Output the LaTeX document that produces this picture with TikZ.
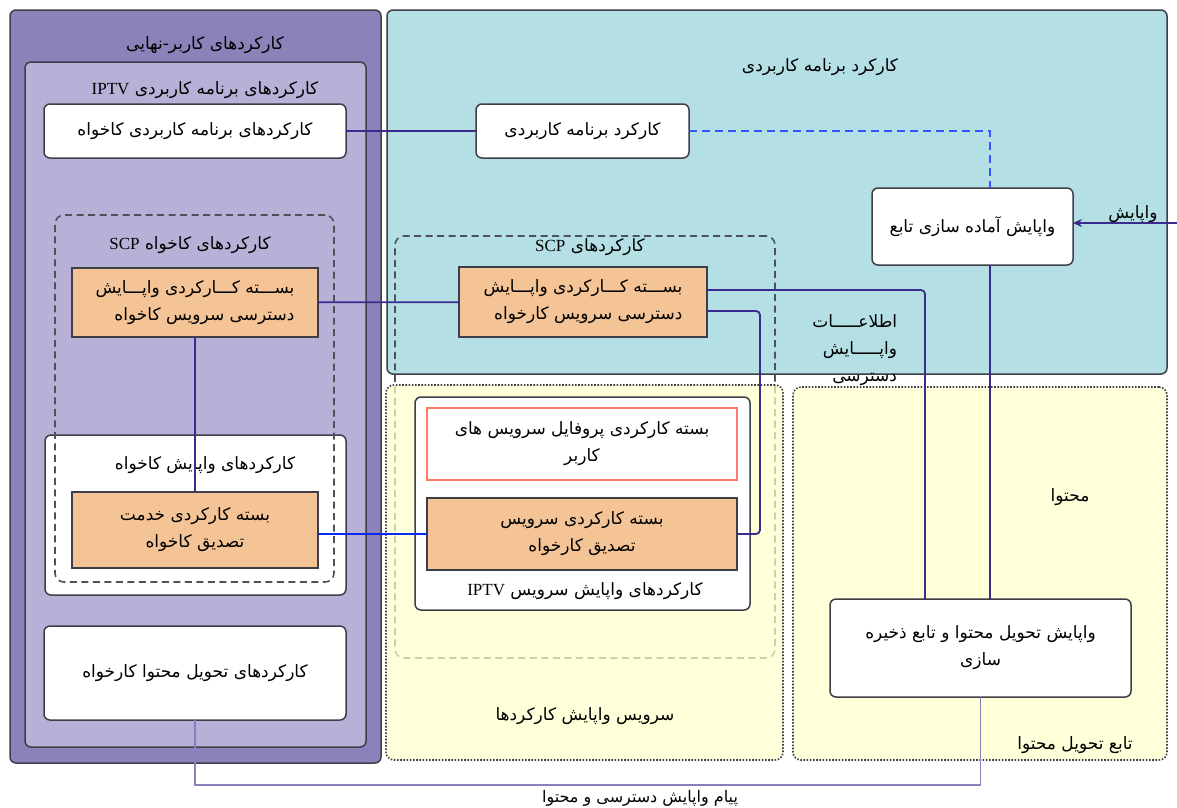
\documentclass[tikz,border=0pt]{standalone}
\usepackage{fontspec}
\setmainfont{Liberation Serif}
\newfontfamily\arabicfont[Script=Arabic]{DejaVu Sans}
\TeXXeTstate=1
\usetikzlibrary{arrows.meta,calc}
\newcommand\fa[1]{{\arabicfont\beginR #1\endR}}

\definecolor{euPurple}{HTML}{8C81B8}
\definecolor{appLav}{HTML}{B9B0D8}
\definecolor{cyanBg}{HTML}{B3DFE5}
\definecolor{yelBg}{HTML}{FFFFCC}
\definecolor{peach}{HTML}{F4C496}
\definecolor{linkPurple}{HTML}{3A2C8E}
\definecolor{linkBlue}{HTML}{0A2BF5}
\definecolor{dashBlue}{HTML}{3355FF}
\definecolor{edge}{HTML}{3E3E48}
\definecolor{scpGray}{HTML}{505058}
\definecolor{msgPurple}{HTML}{8A80BC}
\definecolor{profRed}{HTML}{FF7B6E}

\tikzset{
  every node/.style={font=\fontsize{17}{27}\selectfont, outer sep=0pt},
  frame/.style={draw=edge, line width=1.5pt, rounded corners=6pt, anchor=north west, inner sep=0pt},
  wbox/.style={draw=edge, fill=white, line width=1.5pt, rounded corners=6pt, anchor=north west, align=center, inner sep=2pt},
  obox/.style={draw=edge, fill=peach, line width=1.5pt, anchor=north west, inner sep=2pt},
  scpbox/.style={draw=scpGray, dash pattern=on 7pt off 4.5pt, line width=1.6pt, rounded corners=9pt, anchor=north west, inner sep=0pt},
  ybox/.style={draw=edge, dash pattern=on 1.6pt off 1.6pt, line width=1.6pt, fill=yelBg, fill opacity=0.72, rounded corners=8pt, anchor=north west, inner sep=0pt},
  lbl/.style={inner sep=0pt},
  link/.style={draw=linkPurple, line width=1.8pt},
  bluelink/.style={draw=linkBlue, line width=2pt},
  dashlink/.style={draw=dashBlue, line width=1.8pt, dash pattern=on 8pt off 5pt},
  msg/.style={draw=msgPurple, line width=1.5pt},
}

\begin{document}
\begin{tikzpicture}[x=1pt, y=-1pt]
\useasboundingbox (0,0) rectangle (1177,807);

% application function area
\node[frame, fill=cyanBg, minimum width=780, minimum height=364] (cy) at (387,10) {};
\node[lbl] (cyT) at (820,67) {\fa{کارکرد برنامه کاربردی}};

% end-user functions
\node[frame, fill=euPurple, minimum width=371, minimum height=753] (eu) at (10,10) {};
\node[lbl] (euT) at (205,45) {\fa{کارکردهای کاربر-نهایی}};
\node[frame, fill=appLav, minimum width=341, minimum height=685] (app) at (25,62) {};
\node[lbl] (appT) at (205,90) {\fa{کارکردهای برنامه کاربردی {\rmfamily IPTV}}};

% SCP functions of the network side (partly under the yellow area)
\node[scpbox, minimum width=380, minimum height=422] (scpM) at (395,236) {};
\node[lbl] (scpMT) at (590,247) {\fa{کارکردهای {\rmfamily SCP}}};

% service control and content delivery areas
\node[ybox, minimum width=397, minimum height=375] (ys) at (386,385) {};
\node[lbl] (ysT) at (585,716) {\fa{سرویس واپایش کارکردها}};
\node[ybox, minimum width=374, minimum height=373] (yc) at (793,387) {};
\node[lbl] (ycT1) at (1070,497) {\fa{محتوا}};
\node[lbl] (ycT2) at (1075,745) {\fa{تابع تحویل محتوا}};

% client side boxes
\node[wbox, minimum width=302, minimum height=54] (uapp) at (44,104) {\fa{کارکردهای برنامه کاربردی کاخواه}};
\node[wbox, minimum width=301, minimum height=160] (ucw) at (45,435) {};
\node[lbl] (ucwT) at (205,465) {\fa{کارکردهای واپایش کاخواه}};
\node[scpbox, minimum width=279, minimum height=367] (scpL) at (55,215) {};
\node[lbl] (scpLT) at (190,245) {\fa{کارکردهای کاخواه {\rmfamily SCP}}};
\node[obox, minimum width=246, minimum height=69, align=right] (oL1) at (72,268)
  {\fa{بســـته کـــارکردی واپـــایش}\\\fa{دسترسی سرویس کاخواه}};
\node[obox, minimum width=246, minimum height=76, align=center] (oL2) at (72,492)
  {\fa{بسته کارکردی خدمت}\\\fa{تصدیق کاخواه}};
\node[wbox, minimum width=302, minimum height=94] (ucd) at (44,626) {\fa{کارکردهای تحویل محتوا کارخواه}};

% network side boxes
\node[wbox, minimum width=213, minimum height=54] (afn) at (476,104) {\fa{کارکرد برنامه کاربردی}};
\node[wbox, minimum width=201, minimum height=77] (prep) at (872,188) {\fa{واپایش آماده سازی تابع}};
\node[obox, minimum width=248, minimum height=70, align=right] (oM1) at (459,267)
  {\fa{بســـته کـــارکردی واپـــایش}\\\fa{دسترسی سرویس کارخواه}};
\node[wbox, minimum width=335, minimum height=213] (iptv) at (415,397) {};
\node[lbl] (iptvT) at (585,591) {\fa{کارکردهای واپایش سرویس {\rmfamily IPTV}}};
\node[wbox, rounded corners=0pt, draw=profRed, minimum width=310, minimum height=72] (prof) at (427,408)
  {\fa{بسته کارکردی پروفایل سرویس های}\\\fa{کاربر}};
\node[obox, minimum width=310, minimum height=72, align=center] (oM2) at (427,498)
  {\fa{بسته کارکردی سرویس}\\\fa{تصدیق کارخواه}};
\node[wbox, minimum width=301, minimum height=98] (cdel) at (830,599)
  {\fa{واپایش تحویل محتوا و تابع ذخیره}\\\fa{سازی}};

% free labels
\node[lbl, anchor=east, align=right] (info) at (897,350)
  {\fa{اطلاعـــــات}\\\fa{واپـــــایش}\\\fa{دسترسی}};
\node[lbl] (ctlT) at (1133,214) {\fa{واپایش}};
\node[lbl, anchor=south, font=\fontsize{16}{20}\selectfont] (msgT) at (640,806) {\fa{پیام واپایش دسترسی و محتوا}};

% helper coordinates
\coordinate (ctlIn) at (1180,223);
\coordinate (xA) at (990,0);
\coordinate (xB) at (925,0);
\coordinate (xC) at (760,0);
\coordinate (yMsg) at (0,785);

% connectors
\draw[link] (uapp) -- (afn);
\draw[dashlink] (afn.east) -| (prep.north -| xA) ;
\draw[link, -{Stealth[length=9pt,width=8pt]}] (ctlIn) -- (prep.east |- ctlIn);
\draw[link] (prep.south -| xA) -- (cdel.north -| xA);
\draw[link] (oL1) -- (oM1);
\draw[link] (oL1) -- (oL2);
\draw[link, rounded corners=4pt] ($(oM1.east)+(0,-12)$) -| (cdel.north -| xB);
\draw[link, rounded corners=4pt] ($(oM1.east)+(0,9)$) -| (xC |- oM2.east) -- (oM2.east);
\draw[bluelink] (oL2.east |- oM2) -- (oM2.west);
\draw[msg] (ucd.south) -- (ucd.south |- yMsg) -- (cdel.south |- yMsg) -- (cdel.south);
\end{tikzpicture}
\end{document}
